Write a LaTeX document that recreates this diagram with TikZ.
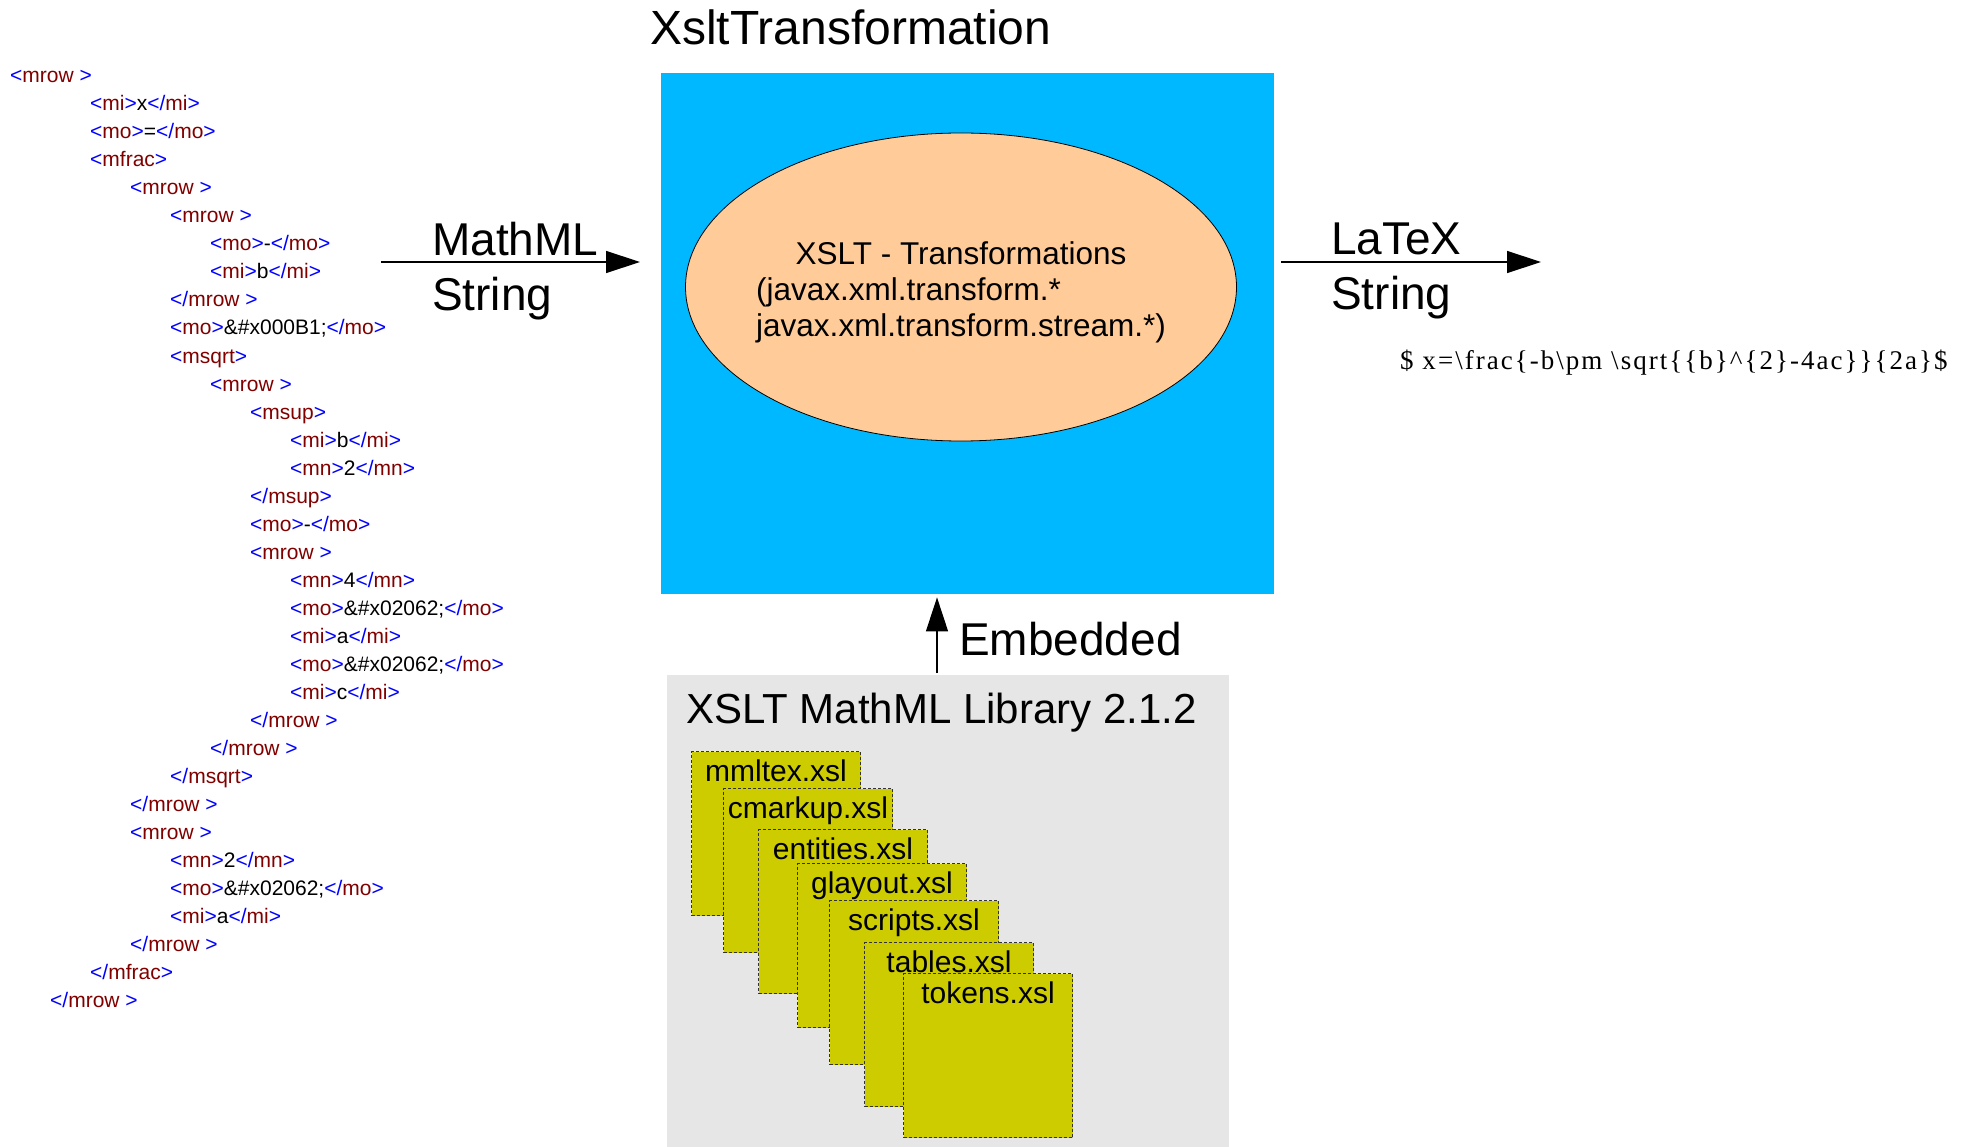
\documentclass[tikz,border=0pt]{standalone}
\usepackage{fontspec}
\setmainfont{Liberation Sans}
\newfontfamily\formulafont[LetterSpace=7.5]{Liberation Serif}
\usetikzlibrary{shapes.geometric,arrows.meta,positioning,calc}

\definecolor{xsltblue}{RGB}{0,184,255}
\definecolor{peach}{RGB}{255,204,153}
\definecolor{libgrey}{RGB}{230,230,230}
\definecolor{xslolive}{RGB}{204,204,0}
\definecolor{tagblue}{RGB}{0,0,255}
\definecolor{tagred}{RGB}{128,0,0}

\newcommand{\opentag}[1]{\textcolor{tagblue}{<}\textcolor{tagred}{#1}\textcolor{tagblue}{>}}
\newcommand{\closetag}[1]{\textcolor{tagblue}{</}\textcolor{tagred}{#1}\textcolor{tagblue}{>}}

\tikzstyle{annot}=[inner sep=0pt, align=left]
\tikzstyle{xmlline}=[inner sep=0pt, anchor=base west, font=\fontsize{21}{25}\selectfont]
\tikzstyle{xslbox}=[rectangle, fill=xslolive, draw=black!80, dash pattern=on 3pt off 2pt, line width=1pt, minimum width=169pt, minimum height=164pt, inner sep=0pt, anchor=north west]
\tikzstyle{filelabel}=[inner sep=0pt, anchor=base, font=\fontsize{30}{36}\selectfont]
\tikzstyle{flow}=[line width=1.3pt, -{Triangle[length=34pt,width=22pt]}]
\tikzstyle{biglabel}=[annot, font=\fontsize{46}{55}\selectfont]

\newcommand{\xslfile}[3]
{
  \node[xslbox] (#1) at (#2) {};
  \node[filelabel] (#1-name) at ([yshift=-30pt]#1.north) {#3};
}

\begin{document}
\begin{tikzpicture}[x=1pt, y=-1pt]
	\useasboundingbox (0,0) rectangle (1964,1147);

	% MathML source
	\foreach \lvl/\code [count=\i from 0] in {
		0/{\opentag{mrow }},
		2/{\opentag{mi}x\closetag{mi}},
		2/{\opentag{mo}=\closetag{mo}},
		2/{\opentag{mfrac}},
		3/{\opentag{mrow }},
		4/{\opentag{mrow }},
		5/{\opentag{mo}-\closetag{mo}},
		5/{\opentag{mi}b\closetag{mi}},
		4/{\closetag{mrow }},
		4/{\opentag{mo}\&\#x000B1;\closetag{mo}},
		4/{\opentag{msqrt}},
		5/{\opentag{mrow }},
		6/{\opentag{msup}},
		7/{\opentag{mi}b\closetag{mi}},
		7/{\opentag{mn}2\closetag{mn}},
		6/{\closetag{msup}},
		6/{\opentag{mo}-\closetag{mo}},
		6/{\opentag{mrow }},
		7/{\opentag{mn}4\closetag{mn}},
		7/{\opentag{mo}\&\#x02062;\closetag{mo}},
		7/{\opentag{mi}a\closetag{mi}},
		7/{\opentag{mo}\&\#x02062;\closetag{mo}},
		7/{\opentag{mi}c\closetag{mi}},
		6/{\closetag{mrow }},
		5/{\closetag{mrow }},
		4/{\closetag{msqrt}},
		3/{\closetag{mrow }},
		3/{\opentag{mrow }},
		4/{\opentag{mn}2\closetag{mn}},
		4/{\opentag{mo}\&\#x02062;\closetag{mo}},
		4/{\opentag{mi}a\closetag{mi}},
		3/{\closetag{mrow }},
		2/{\closetag{mfrac}},
		1/{\closetag{mrow }}}
		\node[xmlline] (xml\i) at ({10+40*\lvl},{83+28*\i}) {\code};

	% transformation
	\node[rectangle, fill=xsltblue, minimum width=613pt, minimum height=521pt, inner sep=0pt, anchor=north west] (xslt) at (661,73) {};
	\node[annot, anchor=base west, font=\fontsize{48}{56}\selectfont] (xsltTitle) at (650,45) {XsltTransformation};
	\node[ellipse, draw=black, line width=0.8pt, fill=peach, minimum width=551pt, minimum height=308pt] (engine) at (961,287) {};
	\node[align=center, inner sep=0pt, font=\fontsize{31.5}{36}\selectfont] (engineText) at ([yshift=-5pt]engine.center)
		{XSLT - Transformations\\ \rlap{(javax.xml.transform.*}\phantom{javax.xml.transform.stream.*)}\\ javax.xml.transform.stream.*)};

	\coordinate (mmlIn) at (381,262);
	\coordinate (latexOut) at (1541,262);
	\draw[flow, shorten >=21pt] (mmlIn) -- (mmlIn -| xslt.west);
	\draw[flow, shorten <=7pt] (xslt.east |- latexOut) -- (latexOut);
	\node[biglabel, anchor=west] (mmlLabel) at ([xshift=51pt, yshift=-9pt]mmlIn) {MathML\\String};
	\node[biglabel, anchor=west] (latexLabel) at (1331,271) {LaTeX\\String};
	\node[annot, anchor=base west, font=\formulafont\fontsize{27}{32}\selectfont] (latexCode) at (1400,370)
		{\$ x=\textbackslash frac\{-b\textbackslash pm\ \textbackslash sqrt\{\{b\}\textasciicircum\{2\}-4ac\}\}\{2a\}\$};

	% library
	\node[rectangle, fill=libgrey, minimum width=562pt, minimum height=472pt, inner sep=0pt, anchor=north west] (lib) at (667,675) {};
	\node[annot, anchor=base west, font=\fontsize{42}{50}\selectfont] (libTitle) at (686,723) {XSLT MathML Library 2.1.2};

	\coordinate (embedAt) at (937,0);
	\draw[flow, shorten <=2pt, shorten >=3pt] (embedAt |- lib.north) -- (embedAt |- xslt.south);
	\node[biglabel, anchor=base west] (embedLabel) at (959,655) {Embedded};

	\xslfile{mmltex}{691,751}{mmltex.xsl}
	\xslfile{cmarkup}{723,788}{cmarkup.xsl}
	\xslfile{entities}{758,829}{entities.xsl}
	\xslfile{glayout}{797,863}{glayout.xsl}
	\xslfile{scripts}{829,900}{scripts.xsl}
	\xslfile{tables}{864,942}{tables.xsl}
	\xslfile{tokens}{903,973}{tokens.xsl}

\end{tikzpicture}
\end{document}
